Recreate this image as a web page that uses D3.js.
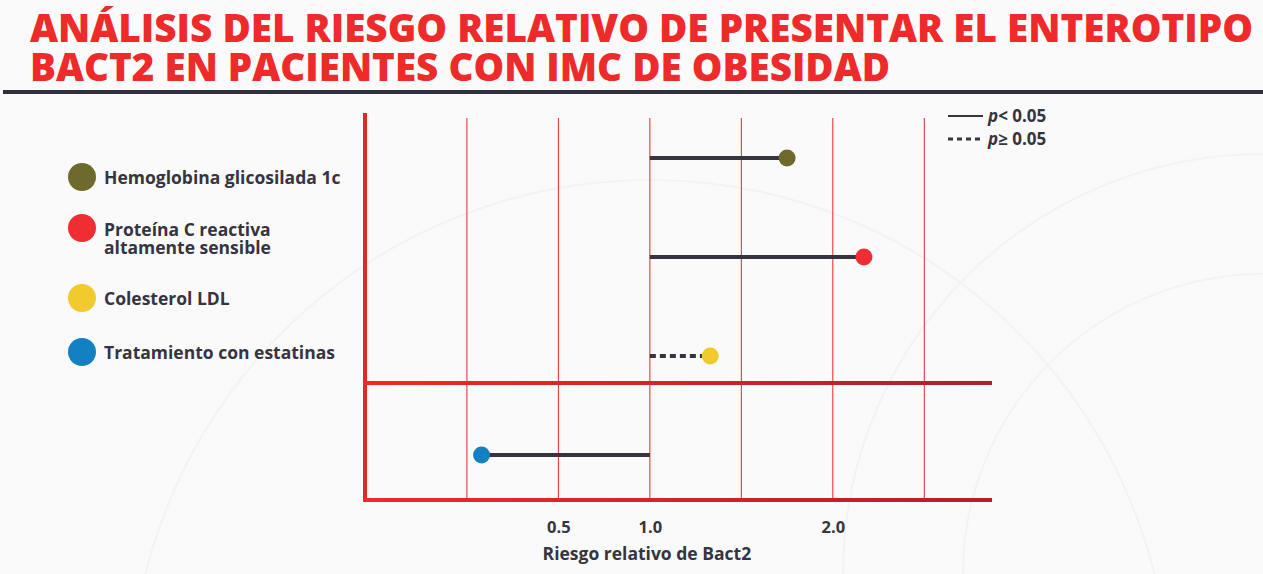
<!DOCTYPE html>
<html>
<head>
<meta charset="utf-8">
<script src="https://cdn.jsdelivr.net/npm/d3@7"></script>
<style>
body { margin: 0; background: #fafafa; }
text { font-family: "Open Sans", sans-serif; }
</style>
</head>
<body>
<div id="chart"></div>
<script>
// data
var categories = ["Hemoglobina glicosilada 1c", "Proteína C reactiva altamente sensible", "Colesterol LDL", "Tratamiento con estatinas"];
var legendLines = [["Hemoglobina glicosilada 1c"], ["Proteína C reactiva", "altamente sensible"], ["Colesterol LDL"], ["Tratamiento con estatinas"]];
var riesgo = [1.75, 2.17, 1.33, 0.08];
var significativo = [true, true, false, true];
var colores = ["#6e6a2b", "#ee2e33", "#f1cb2e", "#1380c4"];
var tickValues = [0.5, 1.0, 2.0];
var gridValues = [0, 0.5, 1.0, 1.5, 2.0, 2.5];
var referencia = 1.0;

var w = 1263, h = 574;
var dark = "#35343f", red = "#ee2a2a";

var svg = d3.select("#chart")
  .append("svg")
  .attr("width", w)
  .attr("height", h);

var defs = svg.append("defs");
var grad = defs.append("linearGradient").attr("id", "redgrad");
grad.append("stop").attr("offset", "0%").attr("stop-color", "#ee2a2a");
grad.append("stop").attr("offset", "100%").attr("stop-color", "#b31e28");

// faint background arcs
var bg = svg.append("g").attr("fill", "none").attr("stroke", "#f3f3f3").attr("stroke-width", 2);
bg.append("circle").attr("cx", 1263).attr("cy", 574).attr("r", 300);
bg.append("circle").attr("cx", 1263).attr("cy", 574).attr("r", 420);
bg.append("circle").attr("cx", 650).attr("cy", 700).attr("r", 520);

// title
var titulo = ["ANÁLISIS DEL RIESGO RELATIVO DE PRESENTAR EL ENTEROTIPO", "BACT2 EN PACIENTES CON IMC DE OBESIDAD"];
var titleLen = [1223, 860];
svg.selectAll(".title")
  .data(titulo)
  .enter()
  .append("text")
  .attr("class", "title")
  .attr("x", 30)
  .attr("y", function(d, i) { return 42 + i * 39; })
  .attr("textLength", function(d, i) { return titleLen[i]; })
  .attr("lengthAdjust", "spacingAndGlyphs")
  .attr("font-size", 38)
  .attr("font-weight", 800)
  .attr("fill", red)
  .text(function(d) { return d; });

svg.append("rect")
  .attr("x", 3).attr("y", 90).attr("width", 1260).attr("height", 4)
  .attr("fill", "#2f2e3a");

// scales
var x = d3.scaleLinear()
  .domain([-0.557, 2.87])
  .range([365, 992]);

var y = d3.scalePoint()
  .domain(categories)
  .range([158, 455]);

var yTop = 113, yBottom = 500, ySep = 383;

var chart = svg.append("g");

// grid lines
chart.selectAll(".grid")
  .data(gridValues)
  .enter()
  .append("line")
  .attr("x1", function(d) { return x(d); })
  .attr("x2", function(d) { return x(d); })
  .attr("y1", 118)
  .attr("y2", yBottom)
  .attr("stroke", "#e8262a")
  .attr("stroke-width", 1);

// frame
chart.append("rect")
  .attr("x", x.range()[0] - 2).attr("y", yTop).attr("width", 4).attr("height", yBottom - yTop + 2)
  .attr("fill", "#e2262a");
chart.append("rect")
  .attr("x", x.range()[0] - 2).attr("y", yBottom - 2).attr("width", x.range()[1] - x.range()[0] + 2).attr("height", 4)
  .attr("fill", "url(#redgrad)");
chart.append("rect")
  .attr("x", x.range()[0] - 2).attr("y", ySep - 2).attr("width", x.range()[1] - x.range()[0] + 2).attr("height", 4)
  .attr("fill", "url(#redgrad)");

// x axis labels
var xAxis = d3.axisBottom(x)
  .tickValues(tickValues)
  .tickFormat(d3.format(".1f"))
  .tickSize(0)
  .tickPadding(0);
var ax = chart.append("g")
  .attr("transform", "translate(0," + 521 + ")")
  .call(xAxis);
ax.select(".domain").remove();
ax.selectAll("text")
  .attr("font-family", "Open Sans")
  .attr("font-weight", "bold")
  .attr("font-size", 16.5)
  .attr("fill", dark);

chart.append("text")
  .attr("x", x(referencia) - 3)
  .attr("y", 560)
  .attr("text-anchor", "middle")
  .attr("font-weight", "bold")
  .attr("font-size", 17.5)
  .attr("fill", dark)
  .text("Riesgo relativo de Bact2");

// lines from 1.0 to value
var rows = categories.map(function(c, i) {
  return { cat: c, v: riesgo[i], sig: significativo[i], color: colores[i] };
});

chart.selectAll(".rr")
  .data(rows)
  .enter()
  .append("line")
  .attr("x1", x(referencia))
  .attr("x2", function(d) { return x(d.v); })
  .attr("y1", function(d) { return y(d.cat); })
  .attr("y2", function(d) { return y(d.cat); })
  .attr("stroke", dark)
  .attr("stroke-width", 4)
  .attr("stroke-dasharray", function(d) { return d.sig ? null : "6,4"; });

chart.selectAll(".dot")
  .data(rows)
  .enter()
  .append("circle")
  .attr("cx", function(d) { return x(d.v); })
  .attr("cy", function(d) { return y(d.cat); })
  .attr("r", 8.5)
  .attr("fill", function(d) { return d.color; });

// left legend
var legY = [177, 228, 298, 352];
var leg = svg.selectAll(".leg")
  .data(rows)
  .enter()
  .append("g")
  .attr("transform", function(d, i) { return "translate(82," + legY[i] + ")"; });
leg.append("circle")
  .attr("r", 14)
  .attr("fill", function(d) { return d.color; });
leg.each(function(d, i) {
  var g = d3.select(this);
  legendLines[i].forEach(function(l, j) {
    g.append("text")
      .attr("x", 22)
      .attr("y", (legendLines[i].length > 1 ? 8 : 7) + j * 18)
      .attr("font-weight", "bold")
      .attr("font-size", 17.5)
      .attr("fill", dark)
      .text(l);
  });
});

// significance legend
var sigLeg = [{ label: "< 0.05", dash: null }, { label: "\u2265 0.05", dash: "5,4" }];
var sl = svg.selectAll(".sig")
  .data(sigLeg)
  .enter()
  .append("g")
  .attr("transform", function(d, i) { return "translate(948," + (116 + i * 23) + ")"; });
sl.append("line")
  .attr("x1", 0).attr("x2", 35)
  .attr("stroke", dark)
  .attr("stroke-width", function(d) { return d.dash ? 3 : 2; })
  .attr("stroke-dasharray", function(d) { return d.dash; });
var st = sl.append("text")
  .attr("x", 40)
  .attr("y", 6)
  .attr("font-weight", "bold")
  .attr("font-size", 17)
  .attr("fill", dark);
st.append("tspan").attr("font-style", "italic").text("p");
st.append("tspan").text(function(d) { return d.label; });
</script>
</body>
</html>
